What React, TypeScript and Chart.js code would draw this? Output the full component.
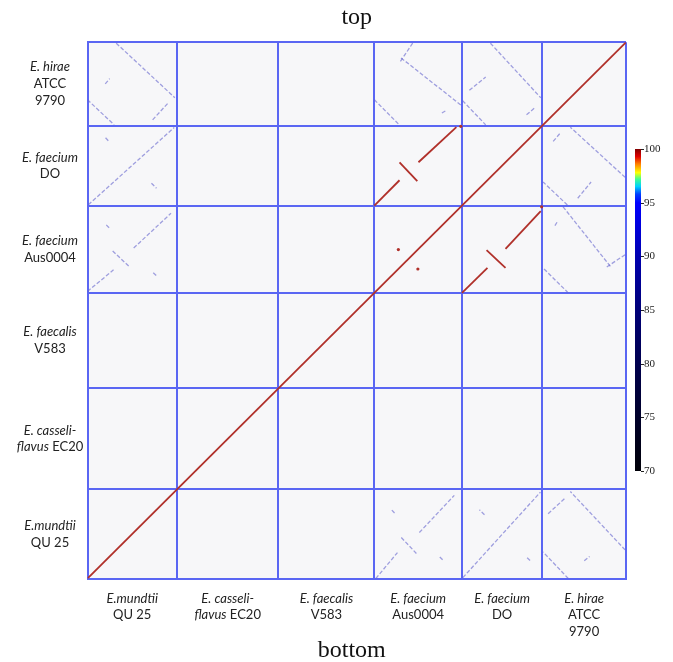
import React, { useEffect, useRef } from "react";
import { Chart, registerables } from "chart.js";

Chart.register(...registerables);

// Genomes in axis order (x: left→right, y: bottom→top)
const GENOME_SIZES_MB = [3.02, 3.43, 3.24, 2.96, 2.71, 2.83];
const GENOME_LABELS: [string, boolean][][][] = [
  [[["E.mundtii", true]], [["QU 25", false]]],
  [[["E. casseli-", true]], [["flavus", true], [" EC20", false]]],
  [[["E. faecalis", true]], [["V583", false]]],
  [[["E. faecium", true]], [["Aus0004", false]]],
  [[["E. faecium", true]], [["DO", false]]],
  [[["E. hirae", true]], [["ATCC", false]], [["9790", false]]],
];

// Lower-identity alignments: [genomeX, genomeY, x1, y1, x2, y2] (Mb within genome)
const FAINT_ALIGNMENTS: number[][] = [
  [0, 5, 0.97, 2.8, 2.95, 0.95],
  [0, 5, 0.0, 0.88, 0.9, 0.03],
  [0, 5, 2.2, 0.2, 2.75, 0.8],
  [0, 5, 0.6, 1.42, 0.75, 1.6],
  [0, 4, 0.03, 0.03, 2.93, 2.65],
  [0, 4, 0.61, 2.3, 0.74, 2.16],
  [0, 4, 2.16, 0.76, 2.33, 0.59],
  [3, 0, 0.05, 0.0, 0.78, 0.88],
  [3, 0, 1.52, 1.56, 2.7, 2.82],
  [3, 0, 0.91, 1.39, 1.42, 0.85],
  [3, 0, 0.59, 2.32, 0.7, 2.2],
  [3, 0, 2.21, 0.73, 2.31, 0.63],
  [4, 5, 0.96, 2.8, 2.66, 0.95],
  [4, 5, 0.02, 0.85, 0.8, 0.03],
  [4, 5, 0.25, 1.2, 0.8, 1.65],
  [4, 5, 2.18, 0.37, 2.45, 0.6],
  [3, 5, 0.9, 2.3, 2.95, 0.68],
  [3, 5, 0.0, 0.88, 0.85, 0.02],
  [3, 5, 0.88, 2.18, 1.32, 2.84],
  [3, 5, 2.28, 0.43, 2.45, 0.53],
];

// High-identity alignments (E. faecium Aus0004 vs DO)
const STRONG_ALIGNMENTS: number[][] = [
  [3, 4, 0.0, 0.0, 0.85, 0.86],
  [3, 4, 0.85, 1.47, 1.45, 0.83],
  [3, 4, 1.49, 1.47, 2.77, 2.66],
];

// Isolated high-identity hits: [genomeX, genomeY, x, y]
const STRONG_DOTS: number[][] = [
  [3, 3, 0.81, 1.47],
  [3, 4, 2.92, 2.69],
];

const COLORBAR_TICKS = [70, 75, 80, 85, 90, 95, 100];
const COLORBAR_STOPS: [number, string][] = [
  [70, "#000008"],
  [75, "#00002a"],
  [80, "#00004e"],
  [85, "#000078"],
  [90, "#0000b0"],
  [95, "#0000ff"],
  [95.8, "#0040ff"],
  [96.5, "#00d0ff"],
  [97.2, "#40ff90"],
  [97.8, "#ffff00"],
  [98.6, "#ff8000"],
  [99.3, "#e00000"],
  [100, "#800000"],
];

const BLUE = "#5a66f3";
const RED = "#b0302a";
const FAINT = "rgba(100,100,205,0.6)";

const OFFSETS: number[] = GENOME_SIZES_MB.reduce(
  (acc: number[], s) => {
    acc.push(acc[acc.length - 1] + s);
    return acc;
  },
  [0]
);
const TOTAL = OFFSETS[OFFSETS.length - 1];

function drawMixed(ctx: CanvasRenderingContext2D, parts: [string, boolean][], cx: number, y: number) {
  const fontFor = (it: boolean) => `${it ? "italic " : ""}13px Lato, "Open Sans", sans-serif`;
  let w = 0;
  parts.forEach(([t, it]) => {
    ctx.font = fontFor(it);
    w += ctx.measureText(t).width;
  });
  let x = cx - w / 2;
  parts.forEach(([t, it]) => {
    ctx.font = fontFor(it);
    ctx.fillText(t, x, y);
    x += ctx.measureText(t).width;
  });
}

const decorPlugin = {
  id: "decor",
  beforeDraw(chart: any) {
    const { ctx, chartArea: a } = chart;
    ctx.save();
    ctx.fillStyle = "#f7f7f9";
    ctx.fillRect(a.left, a.top, a.right - a.left, a.bottom - a.top);
    ctx.restore();
  },
  afterDraw(chart: any) {
    const { ctx, chartArea: a } = chart;
    const xs = chart.scales.x;
    const ys = chart.scales.y;
    ctx.save();
    ctx.fillStyle = "#222";
    ctx.textBaseline = "middle";
    ctx.textAlign = "left";
    const LH = 16.7;
    GENOME_LABELS.forEach((lines, g) => {
      // left labels
      const yc = (ys.getPixelForValue(OFFSETS[g]) + ys.getPixelForValue(OFFSETS[g + 1])) / 2;
      lines.forEach((parts, i) => {
        drawMixed(ctx, parts, a.left - 37.5, yc + (i - (lines.length - 1) / 2) * LH);
      });
      // bottom labels
      const xc = (xs.getPixelForValue(OFFSETS[g]) + xs.getPixelForValue(OFFSETS[g + 1])) / 2;
      lines.forEach((parts, i) => {
        drawMixed(ctx, parts, xc, a.bottom + 20 + i * 16.5);
      });
    });

    // top / bottom titles
    ctx.fillStyle = "#111";
    ctx.textAlign = "center";
    ctx.font = '24px "Liberation Serif", "DejaVu Serif", serif';
    ctx.fillText("top", (a.left + a.right) / 2, 18);
    ctx.fillText("bottom", (a.left + a.right) / 2 - 5, 651);

    // colour bar
    const bx = a.right + 9;
    const bw = 6;
    const bt = 149;
    const bb = 471;
    const lo = COLORBAR_TICKS[0];
    const hi = COLORBAR_TICKS[COLORBAR_TICKS.length - 1];
    const grad = ctx.createLinearGradient(0, bb, 0, bt);
    COLORBAR_STOPS.forEach(([v, c]) => grad.addColorStop((v - lo) / (hi - lo), c));
    ctx.fillStyle = grad;
    ctx.fillRect(bx, bt, bw, bb - bt);
    ctx.fillStyle = "#222";
    ctx.strokeStyle = "#222";
    ctx.lineWidth = 1;
    ctx.textAlign = "left";
    ctx.font = '11px "Liberation Serif", serif';
    COLORBAR_TICKS.forEach((t) => {
      const y = bb - ((t - lo) / (hi - lo)) * (bb - bt);
      ctx.beginPath();
      ctx.moveTo(bx + bw, Math.round(y) + 0.5);
      ctx.lineTo(bx + bw + 3, Math.round(y) + 0.5);
      ctx.stroke();
      ctx.fillText(String(t), bx + bw + 3, y);
    });
    ctx.restore();
  },
};

function segData(al: number[], transpose: boolean) {
  const [gx, gy, x1, y1, x2, y2] = al;
  if (!transpose)
    return [
      { x: OFFSETS[gx] + x1, y: OFFSETS[gy] + y1 },
      { x: OFFSETS[gx] + x2, y: OFFSETS[gy] + y2 },
    ];
  return [
    { x: OFFSETS[gy] + y1, y: OFFSETS[gx] + x1 },
    { x: OFFSETS[gy] + y2, y: OFFSETS[gx] + x2 },
  ];
}

export default function App() {
  const ref = useRef<HTMLCanvasElement | null>(null);
  useEffect(() => {
    if (!ref.current) return;
    const datasets: any[] = [];
    FAINT_ALIGNMENTS.forEach((al) => {
      [false, true].forEach((tr) =>
        datasets.push({
          data: segData(al, tr),
          showLine: true,
          pointRadius: 0,
          borderColor: FAINT,
          borderWidth: 1.3,
          borderDash: [4, 2],
        })
      );
    });
    datasets.push({
      data: [
        { x: 0, y: 0 },
        { x: TOTAL, y: TOTAL },
      ],
      showLine: true,
      pointRadius: 0,
      borderColor: RED,
      borderWidth: 1.8,
    });
    STRONG_ALIGNMENTS.forEach((al) => {
      [false, true].forEach((tr) =>
        datasets.push({
          data: segData(al, tr),
          showLine: true,
          pointRadius: 0,
          borderColor: RED,
          borderWidth: 1.8,
        })
      );
    });
    const dots: any[] = [];
    STRONG_DOTS.forEach(([gx, gy, x, y]) => {
      dots.push({ x: OFFSETS[gx] + x, y: OFFSETS[gy] + y });
      dots.push({ x: OFFSETS[gy] + y, y: OFFSETS[gx] + x });
    });
    datasets.push({
      data: dots,
      showLine: false,
      pointRadius: 1.6,
      backgroundColor: RED,
      borderWidth: 0,
    });

    const scaleOpts = (axis: "x" | "y") => ({
      type: "linear" as const,
      min: 0,
      max: TOTAL,
      ticks: { display: false },
      grid: { color: BLUE, lineWidth: 2, drawTicks: false },
      border: { color: BLUE, width: 2 },
      afterBuildTicks: (s: any) => {
        s.ticks = OFFSETS.map((v) => ({ value: v }));
      },
    });

    const chart = new Chart(ref.current, {
      type: "scatter",
      data: { datasets },
      options: {
        responsive: false,
        animation: false,
        devicePixelRatio: 1,
        layout: { padding: { left: 87.5, right: 47, top: 42.3, bottom: 83.5 } },
        scales: { x: scaleOpts("x"), y: scaleOpts("y") } as any,
        plugins: { legend: { display: false }, tooltip: { enabled: false } },
      },
      plugins: [decorPlugin],
    });
    return () => chart.destroy();
  }, []);

  return (
    <div style={{ position: "fixed", left: 0, top: 0, width: 673, height: 662, background: "#fff" }}>
      <canvas ref={ref} width={673} height={662} style={{ width: 673, height: 662, display: "block" }} />
    </div>
  );
}
